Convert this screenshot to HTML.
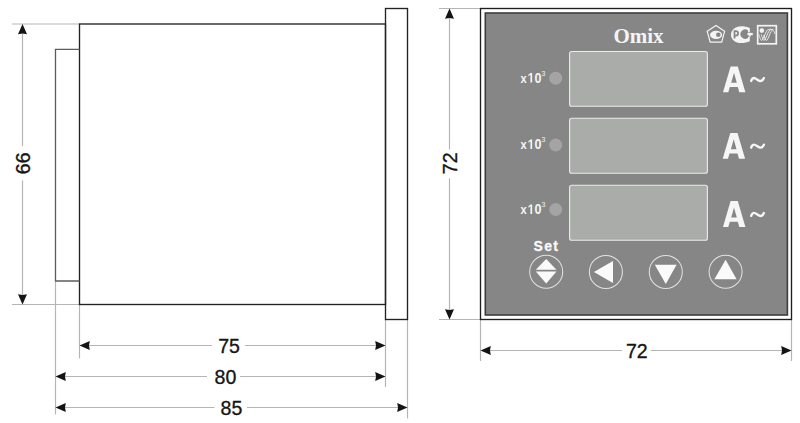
<!DOCTYPE html>
<html><head><meta charset="utf-8">
<style>
html,body{margin:0;padding:0;background:#fff;width:800px;height:423px;overflow:hidden}
svg{display:block}
text{font-family:"Liberation Sans",sans-serif}
.serif{font-family:"Liberation Serif",serif}
</style></head><body>
<svg width="800" height="423" viewBox="0 0 800 423">
<rect width="800" height="423" fill="#fff"/>
<!-- dimension / extension lines -->
<g stroke="#b5b5b5" stroke-width="1.2" fill="none">
  <line x1="12" y1="24" x2="79" y2="24"/>
  <line x1="12" y1="304.5" x2="79" y2="304.5"/>
  <line x1="22.5" y1="30" x2="22.5" y2="146"/>
  <line x1="22.5" y1="180.5" x2="22.5" y2="298"/>
  <line x1="79.5" y1="305" x2="79.5" y2="358.5"/>
  <line x1="55.5" y1="281.5" x2="55.5" y2="414.5"/>
  <line x1="385.5" y1="320" x2="385.5" y2="387"/>
  <line x1="407.5" y1="320" x2="407.5" y2="418.5"/>
  <line x1="85" y1="345.5" x2="212" y2="345.5"/>
  <line x1="245" y1="345.5" x2="380" y2="345.5"/>
  <line x1="61" y1="376.5" x2="207" y2="376.5"/>
  <line x1="240" y1="376.5" x2="380" y2="376.5"/>
  <line x1="61" y1="407.5" x2="214.5" y2="407.5"/>
  <line x1="247" y1="407.5" x2="402" y2="407.5"/>
  <line x1="439" y1="8.5" x2="480" y2="8.5"/>
  <line x1="439" y1="319.5" x2="480" y2="319.5"/>
  <line x1="449.5" y1="15" x2="449.5" y2="149.5"/>
  <line x1="449.5" y1="178.3" x2="449.5" y2="313"/>
  <line x1="480.5" y1="320" x2="480.5" y2="361"/>
  <line x1="791.5" y1="320" x2="791.5" y2="361"/>
  <line x1="486" y1="350.5" x2="622" y2="350.5"/>
  <line x1="651" y1="350.5" x2="786" y2="350.5"/>
</g>
<!-- LEFT SIDE VIEW -->
<g fill="none" stroke="#222" stroke-width="1.35">
  <rect x="79.5" y="24" width="306" height="280.5"/>
  <rect x="385.5" y="8.5" width="22" height="311"/>
</g>
<polyline points="79.5,49.3 55.5,49.3 55.5,281 79.5,281" fill="none" stroke="#5c5c5c" stroke-width="1.3"/>
<!-- arrowheads -->
<g fill="#141414">
  <polygon points="22.50,24.00 18.00,34.30 22.50,33.50 27.00,34.30"/><polygon points="22.50,304.50 18.00,294.20 22.50,295.00 27.00,294.20"/><polygon points="79.50,345.50 89.80,341.00 89.00,345.50 89.80,350.00"/><polygon points="385.50,345.50 375.20,341.00 376.00,345.50 375.20,350.00"/><polygon points="55.50,376.50 65.80,372.00 65.00,376.50 65.80,381.00"/><polygon points="385.50,376.50 375.20,372.00 376.00,376.50 375.20,381.00"/><polygon points="55.50,407.50 65.80,403.00 65.00,407.50 65.80,412.00"/><polygon points="407.50,407.50 397.20,403.00 398.00,407.50 397.20,412.00"/><polygon points="449.50,8.50 445.00,18.80 449.50,18.00 454.00,18.80"/><polygon points="449.50,319.50 445.00,309.20 449.50,310.00 454.00,309.20"/><polygon points="480.50,350.50 490.80,346.00 490.00,350.50 490.80,355.00"/><polygon points="791.50,350.50 781.20,346.00 782.00,350.50 781.20,355.00"/>
</g>
<!-- dimension text -->
<g fill="#161616" font-size="20.8" text-anchor="middle" stroke="#161616" stroke-width="0.35">
  <text transform="translate(229.1 352.8) scale(0.94 1)">75</text>
  <text transform="translate(225.4 384) scale(0.94 1)">80</text>
  <text transform="translate(231.4 415.2) scale(0.94 1)">85</text>
  <text transform="translate(636.8 358.3) scale(0.94 1)">72</text>
  <text transform="translate(30.3 163.3) rotate(-90) scale(0.94 1)">66</text>
  <text transform="translate(457.2 163.3) rotate(-90) scale(0.94 1)">72</text>
</g>
<!-- FRONT VIEW -->
<rect x="480.5" y="8.5" width="311" height="311" fill="#fff" stroke="#1e1e1e" stroke-width="1.35"/>
<rect x="485.3" y="13" width="302.1" height="302" fill="#858685" stroke="#3e3e3e" stroke-width="1.6"/>
<text class="serif" x="638.5" y="42.8" text-anchor="middle" font-weight="bold" font-size="21" fill="#f4f4f4">Omix</text>
<!-- logo 1: pentagon eye -->
<g>
  <polygon points="716,25.4 724.6,31.3 721.7,42.2 710.2,42.2 707.2,31.3" fill="none" stroke="#f4f4f4" stroke-width="1.2"/>
  <ellipse cx="716.1" cy="34.9" rx="6.1" ry="4.1" fill="#f4f4f4"/>
  <circle cx="718.3" cy="34.8" r="2.3" fill="#858685"/>
</g>
<!-- logo 2: PCT -->
<g>
  <path d="M749.8,28 C747.5,26.8 744.5,26.2 741,26.2 C735.3,26.2 731,30 731,34.65 C731,39.3 735.3,43.1 741,43.1 C744.5,43.1 747.5,42.5 749.8,41.3 Z" fill="#f4f4f4"/>
  <path d="M734.5,38.6 V31 H735.8 A2.3,2.3 0 0 1 735.8,35.6 H734.5" fill="none" stroke="#858685" stroke-width="1.75"/>
  <path d="M748,30.425 A4.7,4.7 0 1 0 748,37.975 Z" fill="#858685"/>
  <rect x="747.5" y="32.3" width="2.5" height="4.5" fill="#858685"/>
  <rect x="747.4" y="32.9" width="5.4" height="2.3" fill="#f4f4f4"/>
  <rect x="748.9" y="32.9" width="1.9" height="3.6" fill="#f4f4f4"/>
</g>
<!-- logo 3: square -->
<g>
  <rect x="757.7" y="25.7" width="18.6" height="18.1" fill="none" stroke="#f4f4f4" stroke-width="1.7"/>
  <circle cx="761.8" cy="30.6" r="2.3" fill="#f4f4f4"/>
  <g fill="none" stroke="#f4f4f4" stroke-width="0.9">
    <path d="M758.8,34.3 C759.8,37.3 760.6,40.4 761.6,40.4 C763.3,40.4 766.2,29.5 768.2,29.5 C769.3,29.5 770.2,29.2 771,29"/>
    <path d="M761.2,34.4 C762.2,37.4 763,40.4 764,40.4 C765.7,40.4 768.5,29.6 770.5,29.6 C771.6,29.6 772.5,29.4 773.3,29.3"/>
    <path d="M763.7,35 C764.6,37.6 765.4,40.4 766.4,40.4 C768.1,40.4 770.7,30 772.6,30 C773.6,30 774.2,31.8 774.7,33.8"/>
  </g>
</g>
<!-- display windows -->
<g fill="#aaacaa" stroke="#ececec" stroke-width="1.1">
  <rect x="569.6" y="51.5" width="137.8" height="54.8" rx="2"/>
  <rect x="569.6" y="118.2" width="137.8" height="55" rx="2"/>
  <rect x="569.6" y="185.2" width="137.8" height="55" rx="2"/>
</g>
<g fill="#a4a4a4">
  <circle cx="555.7" cy="78.2" r="6.5"/>
  <circle cx="555.7" cy="145" r="6.5"/>
  <circle cx="555.7" cy="209.5" r="6.5"/>
</g>
<g fill="#f4f4f4" font-weight="bold" font-size="13.8">
  <text transform="translate(520.5 82.6) scale(0.93 1)" font-size="12">x</text>
  <path transform="translate(527.5 82.6) scale(0.006132 -0.006738)" d="M478 0V1170L140 959V1180L493 1409H759V0Z"/>
  <text transform="translate(534.6 82.6) scale(0.91 1)">0</text>
  <text transform="translate(520.5 149.1) scale(0.93 1)" font-size="12">x</text>
  <path transform="translate(527.5 149.1) scale(0.006132 -0.006738)" d="M478 0V1170L140 959V1180L493 1409H759V0Z"/>
  <text transform="translate(534.6 149.1) scale(0.91 1)">0</text>
  <text transform="translate(520.5 214.1) scale(0.93 1)" font-size="12">x</text>
  <path transform="translate(527.5 214.1) scale(0.006132 -0.006738)" d="M478 0V1170L140 959V1180L493 1409H759V0Z"/>
  <text transform="translate(534.6 214.1) scale(0.91 1)">0</text>
</g>
<g fill="#f4f4f4" font-size="7">
  <text x="541.6" y="75.7">3</text>
  <text x="541.6" y="142.2">3</text>
  <text x="541.6" y="207.2">3</text>
</g>
<g fill="#f6f6f6" fill-rule="evenodd">
  <path d="M723,92.2 L730.6,66.4 L737.8,66.4 L745.4,92.2 L739.3,92.2 L737.8,87.1 L729.8,87.1 L728.3,92.2 Z M734,72.8 L731.2,82.8 L736.8,82.8 Z"/>
  <path transform="translate(-0.3 66.5)" d="M723,92.2 L730.6,66.4 L737.8,66.4 L745.4,92.2 L739.3,92.2 L737.8,87.1 L729.8,87.1 L728.3,92.2 Z M734,72.8 L731.2,82.8 L736.8,82.8 Z"/>
  <path transform="translate(0 134.7)" d="M723,92.2 L730.6,66.4 L737.8,66.4 L745.4,92.2 L739.3,92.2 L737.8,87.1 L729.8,87.1 L728.3,92.2 Z M734,72.8 L731.2,82.8 L736.8,82.8 Z"/>
</g>
<g fill="none" stroke="#f6f6f6" stroke-width="2.4" stroke-linecap="round">
  <path transform="translate(0 -66.6)" d="M751.2,147.5 C751.9,145.4 752.8,144.6 754,144.6 C755.6,144.6 757.5,146.7 759.4,147.4 C761.4,148.1 762.9,146.9 763.9,144.7"/>
  <path d="M751.2,147.5 C751.9,145.4 752.8,144.6 754,144.6 C755.6,144.6 757.5,146.7 759.4,147.4 C761.4,148.1 762.9,146.9 763.9,144.7"/>
  <path transform="translate(0 68.3)" d="M751.2,147.5 C751.9,145.4 752.8,144.6 754,144.6 C755.6,144.6 757.5,146.7 759.4,147.4 C761.4,148.1 762.9,146.9 763.9,144.7"/>
</g>
<!-- Set + buttons -->
<text transform="translate(546.4 250.9) scale(0.94 1)" text-anchor="middle" fill="#f8f8f8" stroke="#f8f8f8" stroke-width="0.3" font-weight="bold" font-size="15" letter-spacing="1.4">Set</text>
<g fill="none" stroke="#e2e2e2" stroke-width="1.05">
  <circle cx="546.2" cy="271.8" r="16.5"/>
  <circle cx="605.9" cy="271.9" r="16.5"/>
  <circle cx="665.8" cy="271.9" r="16.5"/>
  <circle cx="725.6" cy="271.7" r="16.5"/>
</g>
<g fill="#fafafa">
  <polygon points="546.2,258.9 556.5,269.7 535.8,269.7"/>
  <polygon points="546.2,283.5 556.5,271.5 535.8,271.5"/>
  <polygon points="593.9,272 613,261 613,283"/>
  <polygon points="654.8,264.8 676.6,264.8 665.8,284"/>
  <polygon points="725.6,259.8 736.6,279.2 714.4,279.2"/>
</g>
</svg>
</body></html>
